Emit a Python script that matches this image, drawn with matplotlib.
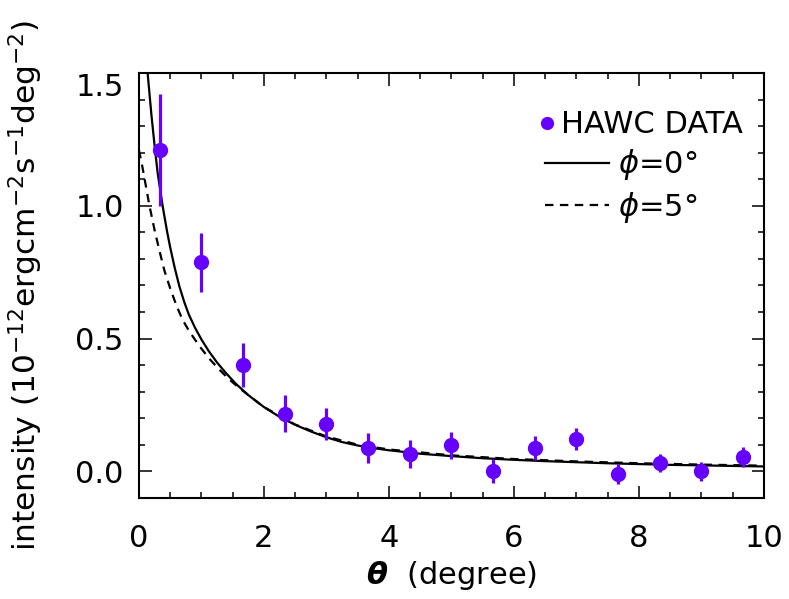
import numpy as np
import matplotlib
matplotlib.use("Agg")
import matplotlib.pyplot as plt
from matplotlib.ticker import MultipleLocator

plt.rcParams['font.family'] = ['DejaVu Sans']
plt.rcParams['mathtext.fontset'] = 'dejavusans'

# HAWC data points
theta_data = [1/3, 1.0, 5/3, 7/3, 3.0, 11/3, 13/3, 5.0, 17/3, 19/3, 7.0, 23/3, 25/3, 9.0, 29/3]
flux_data = [1.21, 0.787, 0.40, 0.216, 0.178, 0.087, 0.066, 0.097, 0.0, 0.086,
             0.122, -0.012, 0.031, 0.0, 0.054]
flux_err = [0.21, 0.11, 0.083, 0.07, 0.06, 0.056, 0.053, 0.05, 0.045, 0.045,
            0.042, 0.038, 0.035, 0.036, 0.037]

# model curve, phi = 0 deg
theta_phi0 = [0.14, 0.20, 0.25, 0.30, 0.38, 0.45, 0.50, 0.575, 0.65, 0.73, 0.80, 0.90,
              1.0, 1.12, 1.25, 1.4, 1.55, 1.75, 2.0, 2.25, 2.5, 2.75, 3.0, 3.25, 3.5,
              3.75, 4.0, 4.5, 5.0, 5.5, 6.0, 6.5, 7.0, 7.5, 8.0, 8.5, 9.0, 9.5, 10.0]
flux_phi0 = [1.50, 1.345, 1.23, 1.125, 1.0, 0.905, 0.845, 0.765, 0.695, 0.635, 0.59, 0.54,
             0.497, 0.452, 0.41, 0.368, 0.33, 0.287, 0.242, 0.205, 0.175, 0.15, 0.128, 0.11,
             0.097, 0.087, 0.079, 0.066, 0.057, 0.049, 0.043, 0.038, 0.034, 0.030, 0.027,
             0.024, 0.022, 0.020, 0.018]

# model curve, phi = 5 deg
theta_phi5 = [0.0, 0.05, 0.10, 0.17, 0.25, 0.33, 0.41, 0.50, 0.60, 0.70, 0.80, 0.90, 1.0,
              1.15, 1.3, 1.45, 1.6, 1.75, 2.0, 2.5, 3.0, 3.5, 4.0, 5.0, 6.0, 7.0, 8.0,
              9.0, 10.0]
flux_phi5 = [1.21, 1.155, 1.09, 1.0, 0.91, 0.83, 0.755, 0.69, 0.625, 0.57, 0.53, 0.495,
             0.462, 0.418, 0.38, 0.345, 0.315, 0.287, 0.242, 0.176, 0.131, 0.100, 0.082,
             0.060, 0.046, 0.037, 0.030, 0.025, 0.021]

purple = '#6600ff'
fs = 22

fig = plt.figure(figsize=(7.89, 5.99), dpi=100)
ax = fig.add_axes([0.176, 0.169, 0.792, 0.709])

l0, = ax.plot(theta_phi0, flux_phi0, color='black', lw=1.6)
l5, = ax.plot(theta_phi5, flux_phi5, color='black', lw=1.6, dashes=(3.8, 2.9))
eb = ax.errorbar(theta_data, flux_data, yerr=flux_err, fmt='o', color=purple, ms=10,
                 elinewidth=2.3, capsize=0, zorder=3)

ax.set_xlim(0, 10)
ax.set_ylim(-0.1, 1.5)
ax.xaxis.set_major_locator(MultipleLocator(2))
ax.xaxis.set_minor_locator(MultipleLocator(0.5))
ax.set_yticks([0.0, 0.5, 1.0, 1.5])
ax.set_yticklabels(['0.0', '0.5', '1.0', '1.5'])
ax.yaxis.set_minor_locator(MultipleLocator(0.1))
ax.tick_params(which='both', direction='in', top=True, right=True, width=1.1)
ax.tick_params(which='major', length=9)
ax.tick_params(which='minor', length=4.5)
ax.tick_params(axis='x', which='major', pad=19, labelsize=fs)
ax.tick_params(axis='y', which='major', pad=11, labelsize=fs)
ax.get_yticklabels()[-1].set_va('top')
for sp in ax.spines.values():
    sp.set_linewidth(1.5)

ax.set_xlabel(r'$\boldsymbol{\theta}$  (degree)', fontsize=fs, labelpad=4)
ax.set_ylabel(r'intensity (10$^{-12}$ergcm$^{-2}$s$^{-1}$deg$^{-2}$)', fontsize=22.5,
              labelpad=22)

# legend in two parts, like the original
leg1 = ax.legend([eb[0]], ['HAWC DATA'], loc='center right',
                 bbox_to_anchor=(0.966, 0.878), frameon=False, fontsize=fs,
                 handlelength=0.6, handletextpad=0.15, borderpad=0, borderaxespad=0,
                 markerscale=0.85)
ax.add_artist(leg1)
ax.legend([l0, l5], [r'$\phi$=0°', r'$\phi$=5°'], loc='upper left',
          bbox_to_anchor=(0.650, 0.825), frameon=False, fontsize=fs,
          handlelength=2.1, handletextpad=0.3, labelspacing=0.25, borderpad=0,
          borderaxespad=0)

fig.savefig('out.png', dpi=100)
